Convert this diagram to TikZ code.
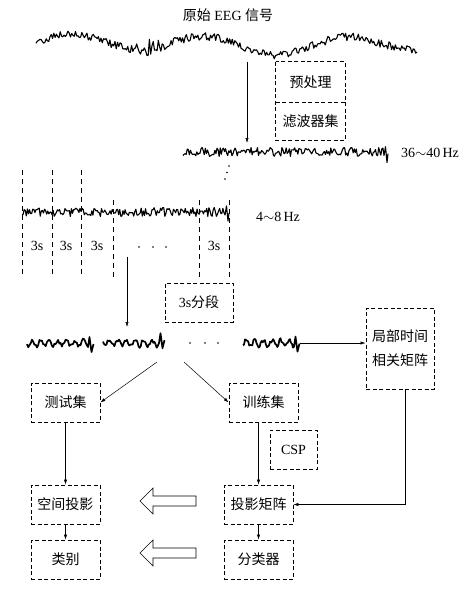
\documentclass[tikz,border=0pt]{standalone}
\usepackage{fontspec}
\setmainfont{Liberation Serif}
\newfontfamily\cjk{Noto Sans CJK SC}
\usetikzlibrary{arrows.meta,positioning}
\newcommand\fs{\fontsize{14}{16}\selectfont}

\begin{document}
\begin{tikzpicture}[x=1pt,y=-1pt,>={Latex[length=5pt,width=3.2pt]},
  dashbox/.style={dash pattern=on 4pt off 2.5pt,line width=0.7pt},
  box/.style={draw,dashbox,minimum width=69pt,minimum height=39pt,
    inner sep=1pt,font={\cjk\fs}},
  sig/.style={line width=1.1pt,line join=round},
  segsig/.style={line width=1.7pt,line join=round},
  vline/.style={dash pattern=on 5pt off 4pt,line width=0.6pt},
  conn/.style={->,line width=0.5pt},
  every node/.style={font=\fs}]
  \useasboundingbox (0,0) rectangle (476,592);
  \pgfmathsetseed{11}

  % raw signal
  \node (title) at (228,15) {{\cjk 原始} EEG {\cjk 信号}};
  \draw[sig] plot[domain=36:417,samples=300,variable=\t]
    (\t,{44-8*cos((\t-68)*2.6)-3*sin((\t-36)*1.1)
      +(4+5*exp(-((\t-150)/12)^2))*rand});

  % preprocessing
  \node[minimum width=69pt,minimum height=40pt,font={\cjk\fs}] (pre) at (310.5,82) {预处理};
  \node[minimum width=69pt,minimum height=38pt,font={\cjk\fs}] (filt) at (310.5,121) {滤波器集};
  \draw[dashbox] (pre.north west) rectangle (filt.south east);
  \draw[dashbox] (pre.south west) -- (pre.south east);
  \coordinate (in1) at (247,62);
  \coordinate (in2) at (247,143);
  \draw[conn] (in1) -- (in2);

  % filtered bands
  \draw[sig] plot[domain=183:384,samples=190,variable=\t]
    (\t,{152+4.5*rand}) -- ++(1.5,-9) -- ++(1.5,16) -- ++(1,-9);
  \node (hz1) at (430,153) {36$\sim$40\,Hz};
  \foreach \p in {(229,166),(227,172.5),(225,179)}
    \fill \p circle (0.8);
  \draw[sig] plot[domain=22:225,samples=190,variable=\t]
    (\t,{212+4.5*rand}) -- ++(1.5,-9) -- ++(1.5,15) -- ++(1,-8);
  \node (hz2) at (278,217) {4$\sim$8\,Hz};

  % 3s windows
  \foreach \x in {22,52,81}
    \draw[vline] (\x,170) -- (\x,277);
  \foreach \x in {113,199,229}
    \draw[vline] (\x,200) -- (\x,277);
  \foreach \x/\n in {37/a,66/b,97/c,214/d}
    \node (w\n) at (\x,246) {3s};
  \foreach \x in {139,153,166}
    \fill (\x,247) circle (0.8);
  \node[box,minimum width=68pt] (cut) at (199,302.5) {{\rmfamily 3s}分段};
  \coordinate (c1) at (127,257);
  \coordinate (c2) at (127,327);
  \draw[conn] (c1) -- (c2);

  % segments
  \foreach \a/\b in {27/88,103/159,243/294}
    \draw[segsig] plot[domain=\a:\b,samples=50,variable=\t]
      (\t,{343+3*sin(\t*42)+2*rand}) -- ++(1.5,-10) -- ++(2,15) -- ++(2,-8);
  \foreach \x in {190,205,218}
    \fill (\x,343) circle (0.8);
  \node[box,minimum width=68pt,minimum height=81pt,align=center,
    font={\cjk\fontsize{14}{24}\selectfont}] (ltc) at (400,348.5) {局部时间\\相关矩阵};
  \coordinate (s3) at (300,343);
  \draw[conn] (s3) -- (s3 -| ltc.west);

  % sets
  \node[box] (test) at (65.5,402.5) {测试集};
  \node[box] (train) at (263.5,402.5) {训练集};
  \node[box,minimum width=47pt] (csp) at (293.5,449.5) {\rmfamily CSP};
  \coordinate (sp1) at (157,362);
  \coordinate (sp2) at (184,362);
  \draw[conn] (sp1) -- (test.east);
  \draw[conn] (sp2) -- (train.west);

  % projection and classification
  \node[box] (proj) at (65.5,504.5) {空间投影};
  \node[box] (cls) at (65.5,559.5) {类别};
  \node[box] (mat) at (258.5,504.5) {投影矩阵};
  \node[box] (clf) at (258.5,559.5) {分类器};
  \draw[conn] (test.south) -- (proj.north);
  \draw[conn] (train.south -| mat.north) -- (mat.north);
  \draw[conn] (proj.south) -- (cls.north);
  \draw[conn] (mat.south) -- (clf.north);
  \draw[conn] ([xshift=5pt]ltc.south) |- (mat.east);

  % hollow arrows
  \foreach \yy in {501,553}
    \draw[line width=0.6pt] (140,\yy) -- ++(13,-13) -- ++(0,8) -- ++(43,0)
      -- ++(0,10) -- ++(-43,0) -- ++(0,8) -- cycle;
\end{tikzpicture}
\end{document}
